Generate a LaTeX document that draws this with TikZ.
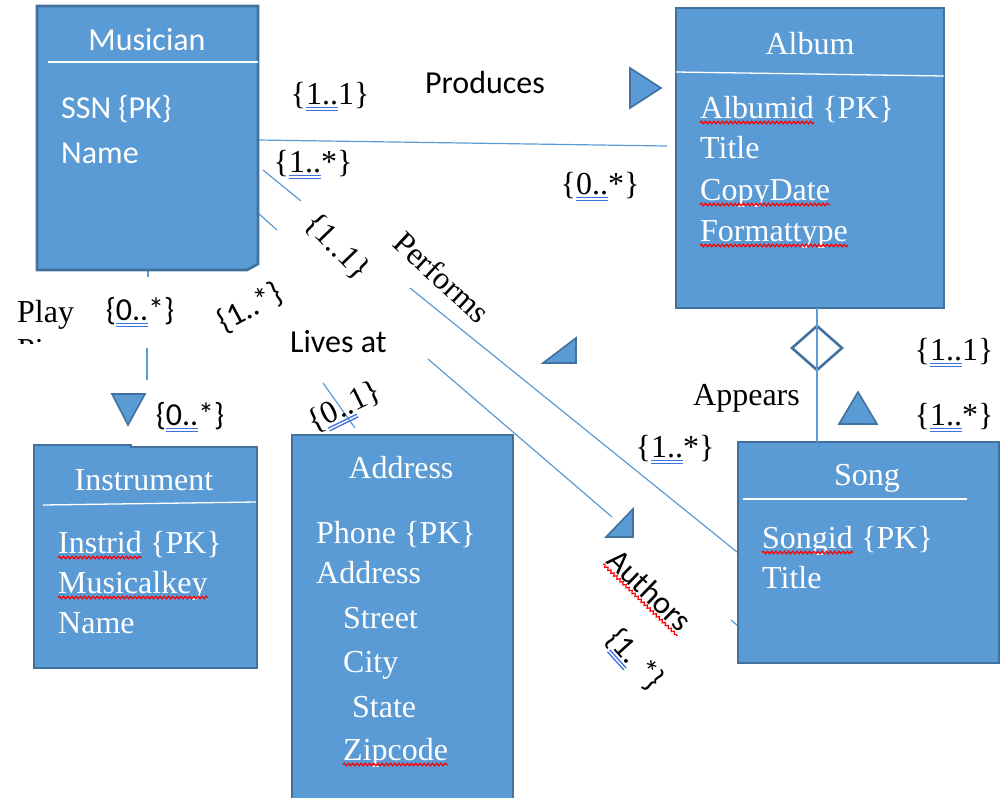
\documentclass[tikz,border=0pt]{standalone}
\usepackage{fontspec}
\setmainfont{Liberation Serif}
\newfontfamily\calfont{Carlito}
\usetikzlibrary{decorations.pathmorphing}
\definecolor{boxfill}{HTML}{5B9BD5}
\definecolor{boxedge}{HTML}{41719C}
\definecolor{wireblue}{HTML}{5B9BD5}
\definecolor{ulblue}{HTML}{3C6FE0}
% double blue underline under part of a cardinality
\newsavebox\ulbox
\newcommand\dblul[1]{\sbox\ulbox{#1}\rlap{\color{ulblue}\rule[-3.6pt]{\wd\ulbox}{1.3pt}}\rlap{\color{ulblue}\rule[-6.6pt]{\wd\ulbox}{1.3pt}}\usebox\ulbox}
\tikzset{
  entity/.style={fill=boxfill, draw=boxedge, line width=2.6pt, line join=miter},
  sep/.style={draw=white, line width=1.3pt},
  wire/.style={draw=wireblue, line width=1.2pt},
  arrowhead/.style={fill=boxfill, draw=boxedge, line width=1.6pt, line join=miter},
  big/.style={font=\fontsize{32}{38}\selectfont},
  sans/.style={font=\calfont\fontsize{32}{38}\selectfont},
  title/.style={big, text=white, inner sep=0pt, anchor=base},
  attr/.style={big, text=white, inner sep=0pt, anchor=base west},
  lbl/.style={big, inner sep=0pt},
  wavy/.style={draw=red, line width=1.2pt, decorate, decoration={snake, amplitude=1.3pt, segment length=4.2pt}},
}
\begin{document}
\begin{tikzpicture}[x=1pt,y=-1pt]
\useasboundingbox (0,0) rectangle (1002,798);

% ---------- connector end points ----------
\coordinate (prod-s) at (258,140);  \coordinate (prod-e) at (667,146);
\coordinate (perf-s) at (263,170);  \coordinate (perf-m) at (301,201);
\coordinate (perf-n) at (410,288);  \coordinate (perf-e) at (737,552);
\coordinate (auth-s) at (258,213);  \coordinate (auth-m) at (277,230);
\coordinate (auth-n) at (428,359);  \coordinate (auth-t) at (612,517);
\coordinate (auth-u) at (731,620);  \coordinate (auth-e) at (738,626);
\coordinate (live-s) at (323,383);  \coordinate (live-e) at (355,428);
\coordinate (play-s) at (148,270);  \coordinate (play-m) at (148,277);
\coordinate (play-n) at (147,348);  \coordinate (play-e) at (147,380);
\coordinate (app-s)  at (817,308);  \coordinate (app-e)  at (817,442);

% ---------- connectors ----------
\draw[wire] (prod-s) -- (prod-e);
\draw[wire] (perf-s) -- (perf-m);
\draw[wire] (perf-n) -- (perf-e);
\draw[wire] (auth-s) -- (auth-m);
\draw[wire] (auth-n) -- (auth-t);
\draw[wire] (auth-u) -- (auth-e);
\draw[wire] (live-s) -- (live-e);
\draw[wire] (play-s) -- (play-m);
\draw[wire] (play-n) -- (play-e);

% ---------- Musician (clipped lower right corner) ----------
\draw[entity] (37,6) -- (258,6) -- (258,264) -- (247,270) -- (37,270) -- cycle;
\node[inner sep=0pt, minimum width=221pt, minimum height=264pt, anchor=north west] (musician) at (37,6) {};
\draw[sep] (48,62) -- (258,62);
\node[title, sans] (mus-t) at (147,50) {Musician};
\node[attr, sans] (mus-a1) at (61,118) {SSN \{PK\}};
\node[attr, sans] (mus-a2) at (61,163) {Name};

% ---------- Album ----------
\draw[entity] (676,8) rectangle (944,308);
\node[inner sep=0pt, minimum width=268pt, minimum height=300pt, anchor=north west] (album) at (676,8) {};
\draw[sep] (676,72) -- (944,76);
\node[title] (alb-t) at (810,54) {Album};
\node[attr] (alb-id) at (700,118) {Albumid};
\node[attr] (alb-pk) at (alb-id.base east) {\ \{PK\}};
\node[attr] (alb-a2) at (700,158) {Title};
\node[attr] (alb-a3) at (700,200) {CopyDate};
\node[attr] (alb-a4) at (700,241) {Formattype};
\draw[wavy] ([yshift=-4.5pt]alb-id.base west) -- ([yshift=-4.5pt]alb-id.base east);
\draw[wavy] ([yshift=-4.5pt]alb-a3.base west) -- ([yshift=-4.5pt]alb-a3.base east);
\draw[wavy] ([yshift=-4.5pt]alb-a4.base west) -- ([yshift=-4.5pt]alb-a4.base east);

% ---------- Instrument (small step in the top edge) ----------
\draw[entity] (34,445) -- (131,445) -- (131,447) -- (257,447) -- (257,668) -- (34,668) -- cycle;
\node[inner sep=0pt, minimum width=223pt, minimum height=222pt, anchor=north west] (instrument) at (34,446) {};
\draw[sep] (43,505) -- (256,502);
\node[title] (ins-t) at (144,490) {Instrument};
\node[attr] (ins-id) at (58,553) {Instrid};
\node[attr] (ins-pk) at (ins-id.base east) {\ \{PK\}};
\node[attr] (ins-a2) at (58,593) {Musicalkey};
\node[attr] (ins-a3) at (58,633) {Name};
\draw[wavy] ([yshift=-4.5pt]ins-id.base west) -- ([yshift=-4.5pt]ins-id.base east);
\draw[wavy] ([yshift=-4.5pt]ins-a2.base west) -- ([yshift=-4.5pt]ins-a2.base east);

% ---------- Address ----------
\draw[entity] (292,435) rectangle (513,807);
\node[inner sep=0pt, minimum width=221pt, minimum height=372pt, anchor=north west] (address) at (292,435) {};
\node[title] (adr-t) at (401,478) {Address};
\node[attr] (adr-a1) at (316,543) {Phone \{PK\}};
\node[attr] (adr-a2) at (316,583) {Address};
\node[attr] (adr-a3) at (343,628) {Street};
\node[attr] (adr-a4) at (343,672) {City};
\node[attr] (adr-a5) at (352,717) {State};
\node[attr] (adr-a6) at (343,760) {Zipcode};
\draw[wavy] ([yshift=-4.5pt]adr-a6.base west) -- ([yshift=-4.5pt]adr-a6.base east);

% ---------- Song ----------
\draw[entity] (738,442) rectangle (999,663);
\node[inner sep=0pt, minimum width=261pt, minimum height=221pt, anchor=north west] (song) at (738,442) {};
\draw[sep] (743,499) -- (967,499);
\node[title] (song-t) at (867,485) {Song};
\node[attr] (song-id) at (762,548) {Songid};
\node[attr] (song-pk) at (song-id.base east) {\ \{PK\}};
\node[attr] (song-a2) at (762,588) {Title};
\draw[wavy] ([yshift=-4.5pt]song-id.base west) -- ([yshift=-4.5pt]song-id.base east);

% ---------- aggregation diamond and Appears line ----------
\draw[fill=white, draw=boxedge, line width=2.6pt, line join=miter]
  (817,326) -- (842,348) -- (817,370) -- (792,348) -- cycle;
\draw[wire] (app-s) -- (app-e);

% ---------- direction triangles ----------
\draw[arrowhead] (630,68) -- (661,88) -- (630,108) -- cycle;
\draw[arrowhead] (112,394) -- (145,394) -- (128,425) -- cycle;
\draw[arrowhead] (543,363) -- (576,363) -- (576,338) -- cycle;
\draw[arrowhead] (606,537) -- (633,537) -- (633,509) -- cycle;
\draw[arrowhead] (839,424) -- (877,424) -- (858,392) -- cycle;

% ---------- relationship names ----------
\node[lbl, sans, anchor=base west] (lab-prod) at (425,93) {Produces};
\node[lbl, anchor=base west] (lab-play) at (17,322) {Play};
\begin{scope}
  \clip (10,330) rectangle (80,343);
  \node[lbl, anchor=base west] (lab-play2) at (17,360) {Piano};
\end{scope}
\node[lbl, rotate=-43] (lab-perf) at (442,277) {Performs};
\node[lbl, sans, anchor=base west] (lab-lives) at (290,352) {Lives at};
\node[lbl, anchor=base west] (lab-app) at (693,405) {Appears};
\node[lbl, sans, rotate=-44, inner ysep=2.5pt] (lab-auth) at (650,590) {Authors};
\draw[wavy] (lab-auth.south west) -- (lab-auth.south east);

% ---------- cardinalities ----------
\node[lbl] (card-mp) at (330,97) {\{\dblul{1..}1\}};
\node[lbl] (card-mf) at (313,165) {\{\dblul{1..}*\}};
\node[lbl] (card-ap) at (600,187) {\{\dblul{0..}*\}};
\node[lbl, sans] (card-pm) at (140,312) {\{\dblul{0..}*\}};
\node[lbl, sans, rotate=28] (card-lm) at (250,308) {\{1..*\}};
\node[lbl, rotate=-46] (card-pf) at (337,247) {\{1..1\}};
\node[lbl, sans] (card-pi) at (190,417) {\{\dblul{0..}*\}};
\node[lbl, rotate=26] (card-la) at (345,408) {\{\dblul{0..}1\}};
\node[lbl] (card-as1) at (954,353) {\{\dblul{1..}1\}};
\node[lbl] (card-as2) at (954,418) {\{\dblul{1..}*\}};
\node[lbl] (card-ps) at (675,450) {\{\dblul{1..}*\}};
\node[lbl, sans, rotate=-48] (card-au) at (634,660) {\{\dblul{1.} *\}};
\end{tikzpicture}
\end{document}
